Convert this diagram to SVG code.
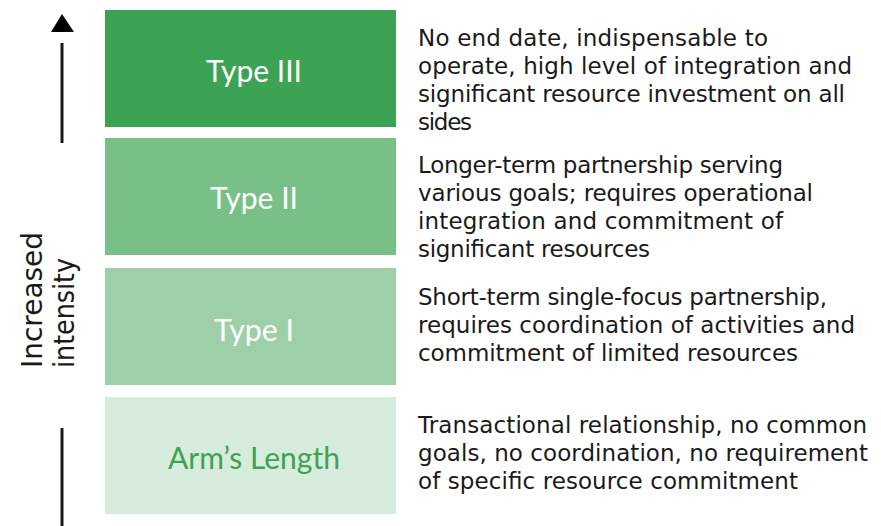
<svg xmlns="http://www.w3.org/2000/svg" width="881" height="526" viewBox="0 0 881 526">
<style>
.lbl{font-family:Lato,"Liberation Sans",sans-serif;font-size:30px;text-anchor:middle}
.desc{font-family:"DejaVu Sans","Liberation Sans",sans-serif;font-size:23px;fill:#1a1a1a}
.axis-t{font-family:"DejaVu Sans","Liberation Sans",sans-serif;font-size:28px;fill:#1a1a1a}
</style>
<rect width="881" height="526" fill="#ffffff"/>
<g id="axis">
<polygon points="62,14 51,32 74,32" fill="#000"/>
<line x1="62" y1="43" x2="62" y2="143" stroke="#1a1a1a" stroke-width="3"/>
<line x1="62" y1="428" x2="62" y2="526" stroke="#1a1a1a" stroke-width="3"/>
<text class="axis-t" transform="translate(42,368) rotate(-90)" textLength="136" lengthAdjust="spacingAndGlyphs">Increased</text>
<text class="axis-t" transform="translate(74,368) rotate(-90)" textLength="110" lengthAdjust="spacingAndGlyphs">intensity</text>
</g>
<g id="connectors"></g>
<g id="type3">
<rect x="105" y="10" width="291" height="117" fill="#3ba353"/>
<text class="lbl" x="254" y="82" fill="#fff" textLength="96" lengthAdjust="spacingAndGlyphs">Type III</text>
</g>
<g id="type2">
<rect x="105" y="138" width="291" height="117" fill="#78bf88"/>
<text class="lbl" x="254" y="209" fill="#fff" textLength="88" lengthAdjust="spacingAndGlyphs">Type II</text>
</g>
<g id="type1">
<rect x="105" y="268" width="291" height="117" fill="#9dd0a8"/>
<text class="lbl" x="254" y="341" fill="#fff" textLength="80" lengthAdjust="spacingAndGlyphs">Type I</text>
</g>
<g id="armslength">
<rect x="105" y="397" width="291" height="117" fill="#d7ecdd"/>
<text class="lbl" x="254" y="469" fill="#3ba353" textLength="172" lengthAdjust="spacingAndGlyphs">Arm’s Length</text>
</g>
<g id="desc3">
<text class="desc" x="418" y="46" textLength="350" lengthAdjust="spacing">No end date, indispensable to</text>
<text class="desc" x="418" y="74" textLength="434" lengthAdjust="spacing">operate, high level of integration and</text>
<text class="desc" x="418" y="102" textLength="427" lengthAdjust="spacing">significant resource investment on all</text>
<text class="desc" x="418" y="130" textLength="54" lengthAdjust="spacing">sides</text>
</g>
<g id="desc2">
<text class="desc" x="418" y="173" textLength="365" lengthAdjust="spacing">Longer-term partnership serving</text>
<text class="desc" x="418" y="201" textLength="395" lengthAdjust="spacing">various goals; requires operational</text>
<text class="desc" x="418" y="229" textLength="365" lengthAdjust="spacing">integration and commitment of</text>
<text class="desc" x="418" y="257" textLength="232" lengthAdjust="spacing">significant resources</text>
</g>
<g id="desc1">
<text class="desc" x="418" y="305" textLength="409" lengthAdjust="spacing">Short-term single-focus partnership,</text>
<text class="desc" x="418" y="333" textLength="437" lengthAdjust="spacing">requires coordination of activities and</text>
<text class="desc" x="418" y="361" textLength="380" lengthAdjust="spacing">commitment of limited resources</text>
</g>
<g id="desc0">
<text class="desc" x="418" y="433" textLength="449" lengthAdjust="spacing">Transactional relationship, no common</text>
<text class="desc" x="418" y="461" textLength="450" lengthAdjust="spacing">goals, no coordination, no requirement</text>
<text class="desc" x="418" y="489" textLength="380" lengthAdjust="spacing">of specific resource commitment</text>
</g>
</svg>
